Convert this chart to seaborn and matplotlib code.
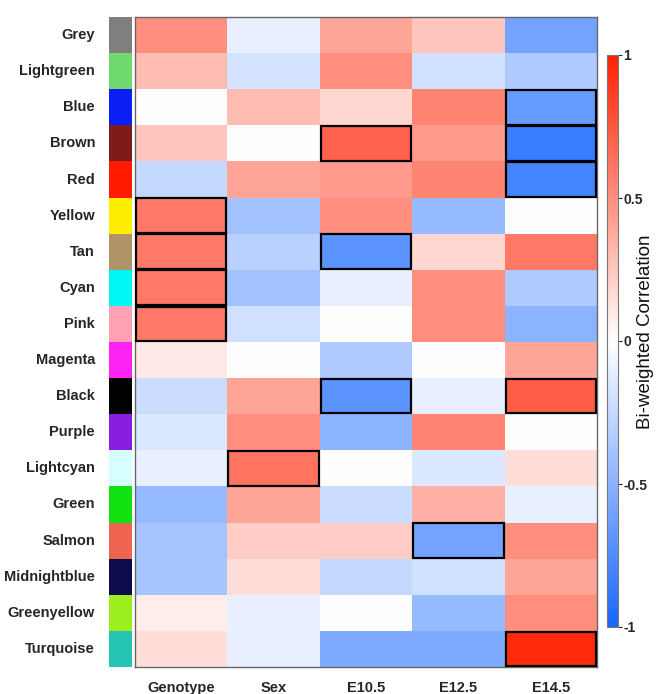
import numpy as np
import pandas as pd
import matplotlib
matplotlib.use("Agg")
import matplotlib.pyplot as plt
from matplotlib.colors import LinearSegmentedColormap, ListedColormap
from matplotlib.patches import Rectangle
import seaborn as sns

sns.set_theme(style="white")
plt.rcParams["font.family"] = ["Liberation Sans", "DejaVu Sans"]

modules = ["Grey", "Lightgreen", "Blue", "Brown", "Red", "Yellow", "Tan", "Cyan",
           "Pink", "Magenta", "Black", "Purple", "Lightcyan", "Green", "Salmon",
           "Midnightblue", "Greenyellow", "Turquoise"]
module_colors = ["#7f7f7f", "#6fd96f", "#0a1ef5", "#7f1a1a", "#ff1a00", "#ffee00",
                 "#b09468", "#00f5f5", "#ffa0b4", "#ff22f5", "#000000", "#8a1ee0",
                 "#d5ffff", "#11e011", "#ef6450", "#0c0c4c", "#9cee1e", "#26c4b4"]
traits = ["Genotype", "Sex", "E10.5", "E12.5", "E14.5"]

genotype = [0.50, 0.30, 0.00, 0.25, -0.25, 0.60, 0.60, 0.60, 0.60,
            0.10, -0.22, -0.15, -0.10, -0.45, -0.38, -0.38, 0.08, 0.15]
sex = [-0.10, -0.18, 0.30, 0.00, 0.40, -0.40, -0.30, -0.40, -0.20,
       0.00, 0.40, 0.50, 0.62, 0.40, 0.22, 0.15, -0.10, -0.10]
e10_5 = [0.40, 0.50, 0.18, 0.70, 0.45, 0.50, -0.70, -0.10, 0.00,
         -0.35, -0.70, -0.50, 0.00, -0.22, 0.22, -0.25, 0.00, -0.55]
e12_5 = [0.25, -0.20, 0.55, 0.45, 0.55, -0.45, 0.18, 0.50, 0.50,
         0.00, -0.10, 0.55, -0.15, 0.35, -0.60, -0.20, -0.45, -0.55]
e14_5 = [-0.60, -0.35, -0.65, -0.85, -0.80, 0.00, 0.60, -0.35, -0.50,
         0.40, 0.72, 0.00, 0.15, -0.10, 0.50, 0.40, 0.50, 0.95]

# significant module-trait pairs (row, column) outlined in black
significant = [(2, 4), (3, 2), (3, 4), (4, 4), (5, 0), (6, 0), (6, 2), (7, 0),
               (8, 0), (10, 2), (10, 4), (12, 1), (14, 3), (17, 4)]

corr = pd.DataFrame({"Genotype": genotype, "Sex": sex, "E10.5": e10_5,
                     "E12.5": e12_5, "E14.5": e14_5}, index=modules)[traits]

cmap = LinearSegmentedColormap.from_list("bwr_corr", ["#1666ff", "#ffffff", "#ff2000"])

W, H = 658, 694
fig = plt.figure(figsize=(W / 100, H / 100), dpi=100)

def px_axes(x0, y0, x1, y1):
    return fig.add_axes([x0 / W, 1 - y1 / H, (x1 - x0) / W, (y1 - y0) / H])

ax = px_axes(135, 17, 597, 667)
ax_strip = px_axes(109, 17, 132, 667)
cax = px_axes(607, 55, 618, 627)

sns.heatmap(corr, ax=ax, cmap=cmap, vmin=-1, vmax=1, cbar_ax=cax,
            xticklabels=True, yticklabels=False)
for r, c in significant:
    ax.add_patch(Rectangle((c + 0.01, r + 0.02), 0.98, 0.96, fill=False,
                           edgecolor="black", linewidth=1.6, zorder=3))
for s in ax.spines.values():
    s.set_visible(True)
    s.set_color("#666666")
    s.set_linewidth(1.0)
ax.tick_params(axis="x", length=0, pad=10)
ax.set_xticklabels(traits, rotation=0, fontsize=10.5, fontweight="bold")
ax.set_xlabel("")
ax.set_ylabel("")

strip = pd.DataFrame({"m": np.arange(len(modules))}, index=modules)
sns.heatmap(strip, ax=ax_strip, cmap=ListedColormap(module_colors), cbar=False,
            xticklabels=False, yticklabels=True)
ax_strip.set_yticklabels(modules, rotation=0, fontsize=10.5, fontweight="bold")
ax_strip.tick_params(axis="y", length=0, pad=10)
ax_strip.set_ylabel("")

cb = ax.collections[0].colorbar
cb.set_ticks([-1, -0.5, 0, 0.5, 1])
cb.set_ticklabels(["-1", "-0.5", "0", "0.5", "1"])
cax.tick_params(length=3, width=0.8, pad=1, labelsize=10)
for t in cax.get_yticklabels():
    t.set_fontweight("bold")
cb.outline.set_edgecolor("#777777")
cb.outline.set_linewidth(0.8)
fig.text(645 / W, 1 - 332 / H, "Bi-weighted Correlation", rotation=90,
         ha="center", va="center", fontsize=13.5, color="#111111")

fig.savefig("out.png", dpi=100, facecolor="white")
